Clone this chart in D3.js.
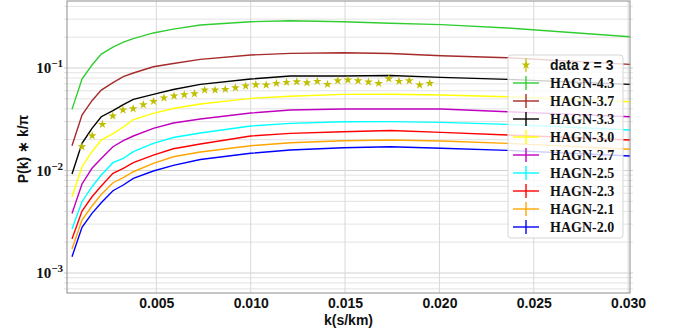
<!DOCTYPE html>
<html>
<head>
<meta charset="utf-8">
<script src="https://cdn.jsdelivr.net/npm/d3@7"></script>
<style>
  body { margin: 0; background: #fff; }
  svg { display: block; }
</style>
</head>
<body>
<svg id="chart" width="676" height="334"></svg>
<script>
// k grid of the model curves (s/km)
const kModel = [0.00053, 0.00106, 0.00159, 0.00208, 0.0027, 0.00325, 0.00378, 0.00484, 0.0059,
  0.00733, 0.0100, 0.0121, 0.0149, 0.0174, 0.0201, 0.0236, 0.0301]

const hagn43 = [0.0395, 0.0781, 0.107, 0.137, 0.160, 0.179, 0.194, 0.220, 0.240, 0.263, 0.283, 0.289, 0.283, 0.274, 0.265, 0.246, 0.202]
const hagn37 = [0.01746, 0.0348, 0.0480, 0.0610, 0.0722, 0.0826, 0.0894, 0.1030, 0.1106, 0.1216, 0.1339, 0.1391, 0.1410, 0.1385, 0.1318, 0.1260, 0.1087]
const hagn33 = [0.00924, 0.01842, 0.0258, 0.03349, 0.0385, 0.04405, 0.04951, 0.05538, 0.0617, 0.06934, 0.0781, 0.0836, 0.0836, 0.0845, 0.0811, 0.0776, 0.0693]
const hagn30 = [0.00555, 0.01089, 0.01526, 0.01984, 0.02296, 0.02657, 0.03145, 0.03614, 0.04025, 0.04455, 0.05064, 0.05308, 0.05538, 0.0555, 0.0545, 0.0525, 0.0469]
const hagn27 = [0.003806, 0.00739, 0.01051, 0.0131, 0.01707, 0.01953, 0.02171, 0.0258, 0.02907, 0.0318, 0.03639, 0.03893, 0.03981, 0.0398, 0.0398, 0.03748, 0.03349]
const hagn25 = [0.002688, 0.004961, 0.00695, 0.00904, 0.01192, 0.01315, 0.01526, 0.01842, 0.02099, 0.02322, 0.02717, 0.02887, 0.02993, 0.0300, 0.02953, 0.02823, 0.02484]
const hagn23 = [0.002147, 0.004025, 0.00555, 0.00706, 0.00939, 0.01051, 0.01192, 0.01416, 0.01632, 0.01813, 0.02171, 0.02306, 0.0239, 0.02456, 0.02358, 0.0222, 0.01984]
const hagn21 = [0.001714, 0.00329, 0.004505, 0.00583, 0.0076, 0.00851, 0.00973, 0.01176, 0.01363, 0.01516, 0.01746, 0.01867, 0.01953, 0.01984, 0.0194, 0.01842, 0.0161]
const hagn20 = [0.001442, 0.002792, 0.003823, 0.00485, 0.00635, 0.00722, 0.00839, 0.00989, 0.01124, 0.01281, 0.01472, 0.01585, 0.01669, 0.01707, 0.01647, 0.01574, 0.01385]

// observed data, z = 3
const kData = [0.00106, 0.00160, 0.00214, 0.00269, 0.00323, 0.00377, 0.00431, 0.00485, 0.00540, 0.00594,
  0.00648, 0.00702, 0.00756, 0.00811, 0.00865, 0.00919, 0.00973, 0.01027, 0.01082, 0.01136,
  0.01190, 0.01244, 0.01298, 0.01353, 0.01407, 0.01461, 0.01515, 0.01569, 0.01624, 0.01678,
  0.01732, 0.01786, 0.01840, 0.01895, 0.01949]
const pkData = [0.01707, 0.02186, 0.02823, 0.03401, 0.03893, 0.04007, 0.04385, 0.04733, 0.05098, 0.05332,
  0.05489, 0.05615, 0.0610, 0.0610, 0.06198, 0.06425, 0.06675, 0.06873, 0.06826, 0.07094,
  0.07256, 0.07353, 0.0719, 0.0742, 0.06934, 0.07519, 0.07637, 0.0752, 0.07304, 0.0709,
  0.07862, 0.0742, 0.0752, 0.0683, 0.0709]

const seriesNames = ['HAGN-4.3', 'HAGN-3.7', 'HAGN-3.3', 'HAGN-3.0', 'HAGN-2.7', 'HAGN-2.5', 'HAGN-2.3', 'HAGN-2.1', 'HAGN-2.0']
const seriesValues = [hagn43, hagn37, hagn33, hagn30, hagn27, hagn25, hagn23, hagn21, hagn20]
const seriesColors = ['limegreen', 'brown', 'black', '#ffff00', '#bf00bf', '#00ffff', '#ff0000', '#ffa500', '#0000ff']

const xTicks = [0.005, 0.010, 0.015, 0.020, 0.025, 0.030]
const yTicks = [1e-3, 1e-2, 1e-1]
const yTickLabels = ['−3', '−2', '−1']

const margin = { top: 1, right: 46, bottom: 41, left: 67 }
const width = 676
const height = 334
const _w = width - margin.left - margin.right
const _h = height - margin.top - margin.bottom

const sans = "'Liberation Sans', Arial, sans-serif"
const serif = "'Liberation Serif', 'Times New Roman', serif"

const svg = d3.select('#chart')
const x = d3.scaleLinear().domain([0.000265, 0.0301]).range([0, _w])
const y = d3.scaleLog().domain([0.000638, 0.451]).range([_h, 0])

const g = svg.append('g').attr('transform', `translate(${margin.left},${margin.top})`)

svg.append('defs').append('clipPath').attr('id', 'clip')
  .append('rect').attr('width', _w).attr('height', _h)

// grid
const minorY = y.ticks().filter((d) => !yTicks.some((t) => Math.abs(t - d) / t < 1e-6))
g.append('g')
  .selectAll('line')
  .data(minorY)
  .join('line')
  .attr('x1', -3).attr('x2', _w + 3)
  .attr('y1', (d) => y(d)).attr('y2', (d) => y(d))
  .attr('stroke', '#e3e3e3')
g.append('g')
  .selectAll('line')
  .data(yTicks)
  .join('line')
  .attr('x1', -3).attr('x2', _w + 3)
  .attr('y1', (d) => y(d)).attr('y2', (d) => y(d))
  .attr('stroke', '#d2d2d2')
g.append('g')
  .selectAll('line')
  .data(xTicks)
  .join('line')
  .attr('x1', (d) => x(d)).attr('x2', (d) => x(d))
  .attr('y1', 0).attr('y2', _h)
  .attr('stroke', '#d8d8d8')

// model curves
const line = d3.line().x((d) => x(d[0])).y((d) => y(d[1]))
const curves = g.append('g').attr('clip-path', 'url(#clip)')
curves.selectAll('path')
  .data(seriesValues.map((vals, i) => ({ vals, i })).reverse())
  .join('path')
  .attr('fill', 'none')
  .attr('stroke', (d) => seriesColors[d.i])
  .attr('stroke-width', 1.4)
  .attr('d', (d) => line(kModel.map((k, j) => [k, d.vals[j]])))

// data stars
const star = d3.symbol().type(d3.symbolStar).size(24)
g.append('g')
  .selectAll('path')
  .data(kData)
  .join('path')
  .attr('transform', (d, i) => `translate(${x(d)},${y(pkData[i])})`)
  .attr('d', star)
  .attr('fill', '#bfbf00')

// axes
g.append('rect')
  .attr('width', _w).attr('height', _h)
  .attr('fill', 'none').attr('stroke', '#8c8c8c').attr('stroke-width', 1)

const xAxis = g.append('g')
  .attr('transform', `translate(0,${_h})`)
  .call(d3.axisBottom(x).tickValues(xTicks).tickFormat(d3.format('.3f')).tickSize(0).tickPadding(5))
xAxis.select('.domain').remove()
xAxis.selectAll('text')
  .attr('font-family', sans)
  .attr('font-weight', 'bold')
  .attr('font-size', 14)
  .attr('fill', '#111')

const yAxis = g.append('g')
  .call(d3.axisLeft(y).tickValues(yTicks).tickSize(0).tickPadding(4).tickFormat(() => ''))
yAxis.select('.domain').remove()
yAxis.selectAll('text')
  .attr('font-family', serif)
  .attr('font-weight', 'bold')
  .attr('font-size', 15)
  .attr('fill', '#111')
  .each(function (d, i) {
    const t = d3.select(this)
    t.append('tspan').text('10')
    t.append('tspan').attr('dy', -6).attr('font-size', 11).text(yTickLabels[i])
  })

svg.append('text')
  .attr('x', margin.left + _w / 2)
  .attr('y', 325)
  .attr('text-anchor', 'middle')
  .attr('font-family', sans)
  .attr('font-weight', 'bold')
  .attr('font-size', 14)
  .attr('fill', '#111')
  .text('k(s/km)')

svg.append('text')
  .attr('transform', 'translate(28,149) rotate(-90)')
  .attr('text-anchor', 'middle')
  .attr('font-family', sans)
  .attr('font-weight', 'bold')
  .attr('font-size', 14)
  .attr('fill', '#111')
  .text('P(k) ∗ k/π')

// legend
const legend = svg.append('g').attr('transform', 'translate(508,55)')
legend.append('rect')
  .attr('width', 115).attr('height', 183).attr('rx', 3)
  .attr('fill', 'white').attr('fill-opacity', 0.8)
  .attr('stroke', '#d6d6d6')
const rowY = (i) => 10 + i * 18
const dataRow = legend.append('g').attr('transform', `translate(18,${rowY(0)})`)
dataRow.append('line').attr('y1', -7).attr('y2', 7).attr('stroke', '#bfbf00').attr('stroke-width', 1.2)
dataRow.append('path').attr('d', star).attr('fill', '#bfbf00')
legend.append('text')
  .attr('x', 42).attr('y', rowY(0)).attr('dy', '0.35em')
  .attr('font-family', sans)
  .attr('font-weight', 'bold').attr('font-size', 14).attr('fill', '#111')
  .text('data z = 3')

const rows = legend.selectAll('g.row')
  .data(seriesNames)
  .join('g')
  .attr('class', 'row')
  .attr('transform', (d, i) => `translate(5,${rowY(i + 1)})`)
rows.append('line').attr('x1', 0).attr('x2', 26)
  .attr('stroke', (d, i) => seriesColors[i]).attr('stroke-width', 1.4)
rows.append('line').attr('x1', 13).attr('x2', 13).attr('y1', -7).attr('y2', 7)
  .attr('stroke', (d, i) => seriesColors[i]).attr('stroke-width', 1.4)
rows.append('text')
  .attr('x', 37).attr('dy', '0.35em')
  .attr('font-family', serif)
  .attr('font-weight', 'bold').attr('font-size', 14).attr('fill', '#111')
  .text((d) => d)
</script>
</body>
</html>
